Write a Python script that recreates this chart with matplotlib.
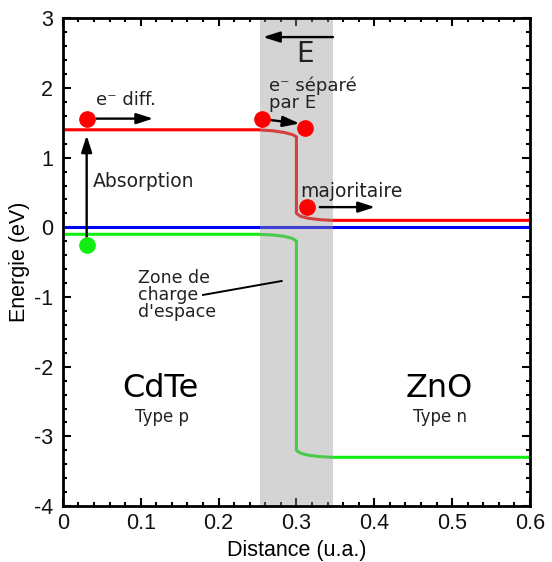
import numpy as np
import matplotlib
matplotlib.use("Agg")
import matplotlib.pyplot as plt

# bandes
x_bc = [0, 0.25, 0.27, 0.285, 0.295, 0.30, 0.30, 0.305, 0.315, 0.33, 0.345, 0.6]
y_bc = [1.4, 1.4, 1.385, 1.36, 1.33, 1.30, 0.20, 0.16, 0.13, 0.11, 0.10, 0.10]
x_bv = [0, 0.25, 0.27, 0.285, 0.295, 0.30, 0.30, 0.305, 0.315, 0.33, 0.345, 0.6]
y_bv = [-0.10, -0.10, -0.11, -0.13, -0.16, -0.20, -3.20, -3.24, -3.27, -3.29, -3.30, -3.30]
x_fermi = [0, 0.6]
y_fermi = [0, 0]

# zone de charge d'espace
zce = (0.253, 0.347)

# electrons / trou
x_e = [0.031, 0.256, 0.311, 0.314]
y_e = [1.56, 1.56, 1.42, 0.29]
x_h = [0.031]
y_h = [-0.25]

fig = plt.figure(figsize=(5.52, 5.62), dpi=100)
ax = fig.add_axes([0.114, 0.0995, 0.846, 0.868])

ax.plot(x_fermi, y_fermi, color='#0000ff', lw=2.2, zorder=2)
ax.plot(x_bc, y_bc, color='#ff0000', lw=2.2, zorder=2)
ax.plot(x_bv, y_bv, color='#11ee11', lw=2.2, zorder=2)
ax.axvspan(zce[0], zce[1], color='#9a9a9a', alpha=0.42, lw=0, zorder=2.6)

ax.plot(x_e, y_e, 'o', color='#ff0000', ms=11, zorder=5)
ax.plot(x_h, y_h, 'o', color='#11ee11', ms=11, zorder=5)

fl = dict(arrowstyle='-|>,head_length=1.0,head_width=0.32', color='black', lw=1.7,
          shrinkA=0, shrinkB=0)
# absorption
ax.annotate('', xy=(0.0305, 1.32), xytext=(0.0305, -0.25), arrowprops=fl, zorder=4)
# diffusion
ax.annotate('', xy=(0.116, 1.56), xytext=(0.043, 1.56), arrowprops=fl, zorder=4)
# separation
ax.annotate('', xy=(0.304, 1.49), xytext=(0.262, 1.545), arrowprops=fl, zorder=4)
# majoritaire
ax.annotate('', xy=(0.401, 0.29), xytext=(0.330, 0.29), arrowprops=fl, zorder=4)
# champ E
ax.annotate('', xy=(0.257, 2.73), xytext=(0.347, 2.73), arrowprops=fl, zorder=4)
# zone de charge
ax.plot([0.180, 0.281], [-0.97, -0.77], color='black', lw=1.4, zorder=4)

tf = dict(family='DejaVu Sans', color='#222222')
ax.text(0.300, 2.37, 'E', fontsize=20, **tf)
ax.text(0.043, 1.75, 'e⁻ diff.', fontsize=13, **tf)
ax.text(0.265, 1.71, 'e⁻ séparé\npar E', fontsize=13, linespacing=0.95, **tf)
ax.text(0.039, 0.58, 'Absorption', fontsize=13.5, **tf)
ax.text(0.305, 0.44, 'majoritaire', fontsize=13.5, **tf)
ax.text(0.096, -0.60, "Zone de\ncharge\nd'espace", fontsize=12.5, va='top',
        linespacing=0.92, **tf)
ax.text(0.125, -2.43, 'CdTe', fontsize=23, ha='center', family='DejaVu Sans', color='black')
ax.text(0.127, -2.80, 'Type p', fontsize=12, ha='center', **tf)
ax.text(0.484, -2.43, 'ZnO', fontsize=23, ha='center', family='DejaVu Sans', color='black')
ax.text(0.484, -2.80, 'Type n', fontsize=12, ha='center', **tf)

ax.set_xlim(0, 0.6)
ax.set_ylim(-4, 3)
ax.set_xticks(np.arange(0, 0.61, 0.1))
ax.set_xticklabels(['0', '0.1', '0.2', '0.3', '0.4', '0.5', '0.6'])
ax.set_xticks(np.arange(0, 0.601, 0.02), minor=True)
ax.set_yticks(np.arange(-4, 3.1, 1))
ax.set_yticklabels(['-4', '-3', '-2', '-1', '0', '1', '2', '3'])
ax.set_yticks(np.arange(-4, 3.01, 0.2), minor=True)
ax.tick_params(which='both', direction='in', top=True, right=True, width=1.5)
ax.tick_params(which='major', length=6)
ax.tick_params(which='minor', length=3)
ax.tick_params(axis='x', which='major', pad=5)
ax.tick_params(axis='y', which='major', pad=7)
for lab in ax.get_xticklabels() + ax.get_yticklabels():
    lab.set_fontfamily('Liberation Sans')
    lab.set_fontsize(15.5)
    lab.set_color('#111111')
for s in ax.spines.values():
    s.set_linewidth(2)
    s.set_zorder(3)

ax.set_xlabel('Distance (u.a.)', family='Liberation Sans', fontsize=15.5, labelpad=4)
ax.set_ylabel('Energie (eV)', family='Liberation Sans', fontsize=15.5, labelpad=3)

fig.savefig('out.png', dpi=100)
